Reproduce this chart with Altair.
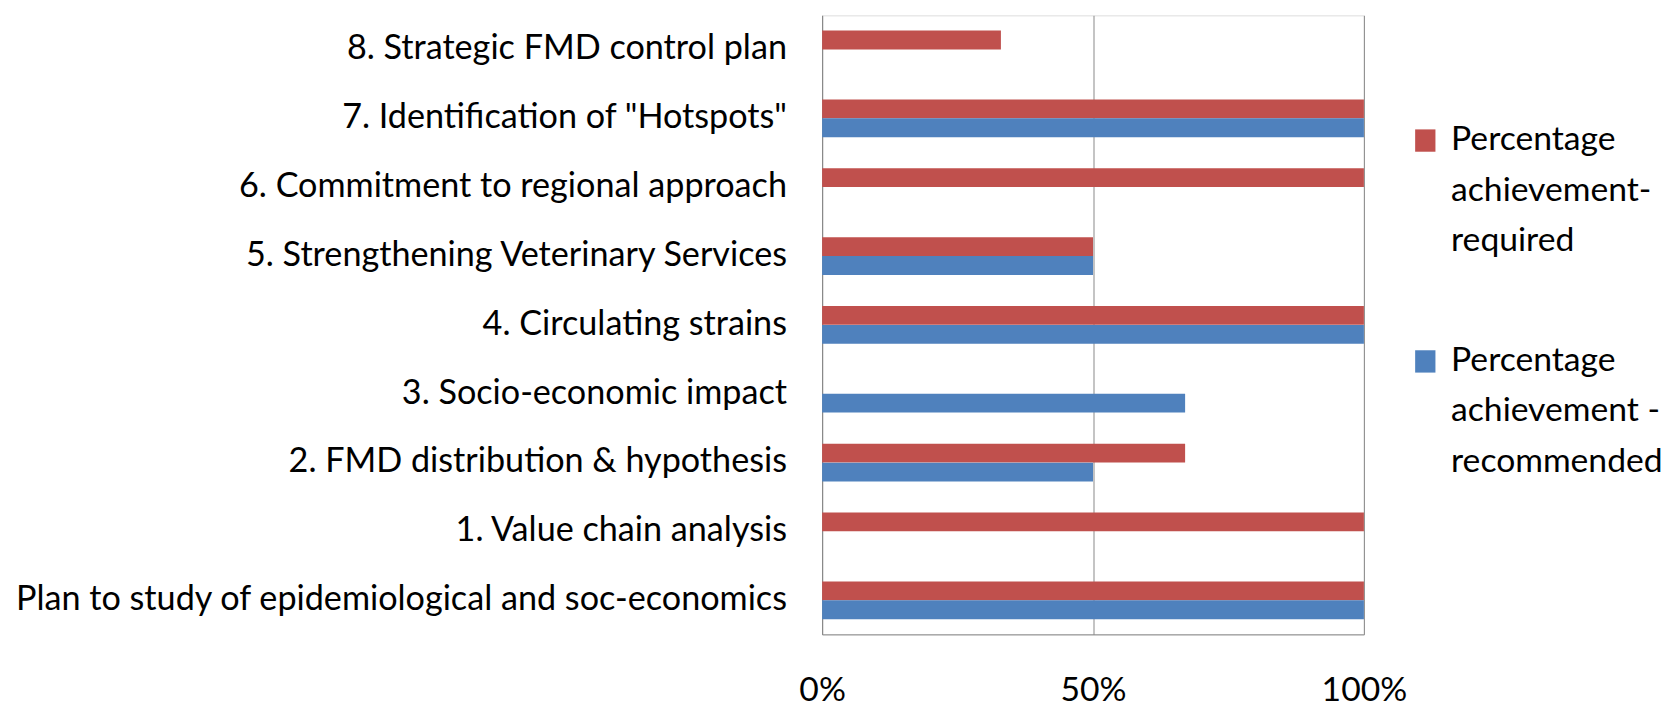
import altair as alt
import pandas as pd

categories = [
    "8. Strategic FMD control plan",
    "7. Identification of \"Hotspots\"",
    "6. Commitment to regional approach",
    "5. Strengthening Veterinary Services",
    "4. Circulating strains",
    "3. Socio-economic impact",
    "2. FMD distribution & hypothesis",
    "1. Value chain analysis",
    "Plan to study of epidemiological and soc-economics",
]
required = [33, 100, 100, 50, 100, None, 67, 100, 100]
recommended = [None, 100, None, 50, 100, 67, 50, None, 100]
series = ["Percentage achievement-required", "Percentage achievement -recommended"]
colors = ["#C0504D", "#4F81BD"]

rows = []
for c, r, b in zip(categories, required, recommended):
    if r is not None:
        rows.append({"cat": c, "series": series[0], "value": r / 100})
    if b is not None:
        rows.append({"cat": c, "series": series[1], "value": b / 100})
df = pd.DataFrame(rows)

FONT = "Lato"

chart = alt.Chart(df).mark_bar(size=19).encode(
    y=alt.Y("cat:N", sort=categories, title=None,
            scale=alt.Scale(paddingInner=0.45, paddingOuter=0.22),
            axis=alt.Axis(ticks=False, domain=True, domainColor="#888888",
                          labelFontSize=34.5, labelFont=FONT, labelColor="#000000",
                          labelPadding=36, labelLimit=1000, grid=False)),
    yOffset=alt.YOffset("series:N", sort=series),
    x=alt.X("value:Q", title=None,
            scale=alt.Scale(domain=[0, 1], nice=False),
            axis=alt.Axis(format="%", values=[0, 0.5, 1], ticks=False,
                          domainColor="#888888", gridColor="#888888", grid=True,
                          labelFlush=False,
                          labelFontSize=34, labelFont=FONT, labelColor="#000000",
                          labelPadding=40)),
    color=alt.Color("series:N", sort=series,
                    scale=alt.Scale(domain=series, range=colors),
                    legend=alt.Legend(title=None, orient="none",
                                      legendX=592, legendY=92,
                                      symbolType="M-1,0.6H1V2.8H-1Z", symbolSize=420,
                                      symbolStrokeWidth=0,
                                      labelFont=FONT, labelFontSize=34,
                                      labelColor="#000000", labelLimit=400,
                                      labelExpr="datum.label == 'Percentage achievement-required' ? ['Percentage', 'achievement-', 'required'] : ['Percentage', 'achievement -', 'recommended']",
                                      labelBaseline="top",
                                      rowPadding=70, labelOffset=9)),
).properties(
    width=547, height=625,
    padding={"left": 5, "top": 4, "right": 0, "bottom": 5},
).configure_view(stroke=None).configure(
    background="white",
    style={"guide-label": {"lineHeight": 51}},
)

chart.save("out.html", embed_options={"renderer": "svg", "actions": False})
